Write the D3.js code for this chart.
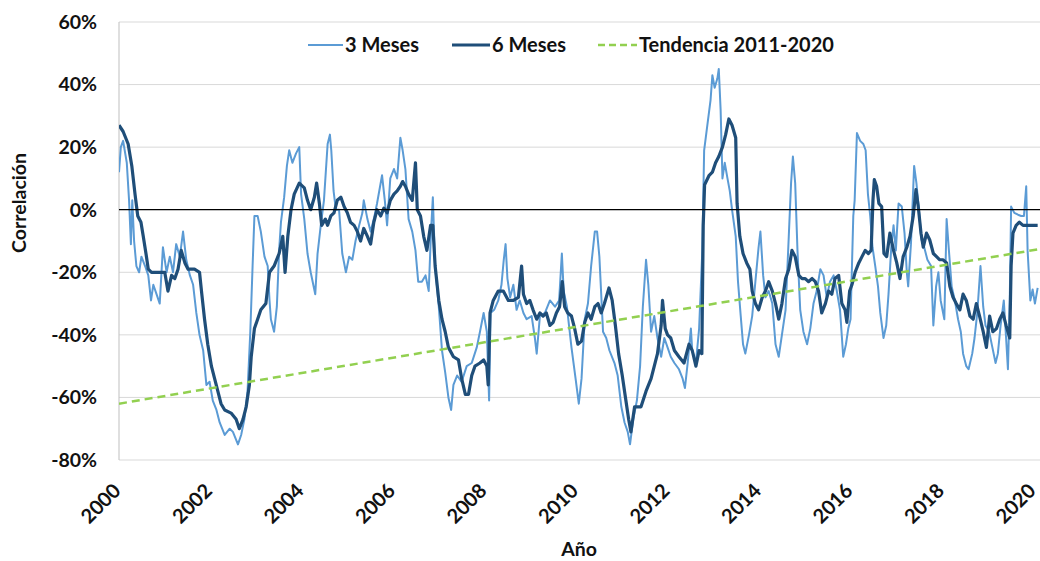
<!DOCTYPE html>
<html>
<head>
<meta charset="utf-8">
<script src="https://cdn.jsdelivr.net/npm/d3@7"></script>
<style>
  body { margin: 0; background: #fff; }
  text { font-family: Lato, "Open Sans", sans-serif; font-weight: bold; fill: #111; }
</style>
</head>
<body>
<div id="chart"></div>
<script>
// Series (decimal year, correlation in %)
var years3m = [2000.00,2000.04,2000.09,2000.17,2000.22,2000.26,2000.29,2000.33,2000.38,2000.44,2000.49,2000.57,2000.64,2000.70,2000.75,2000.82,2000.89,2000.96,2001.04,2001.11,2001.18,2001.25,2001.33,2001.40,2001.47,2001.55,2001.62,2001.69,2001.76,2001.84,2001.91,2001.98,2002.05,2002.13,2002.20,2002.31,2002.42,2002.49,2002.60,2002.67,2002.74,2002.81,2002.87,2002.92,2002.96,2003.03,2003.10,2003.18,2003.25,2003.29,2003.32,2003.39,2003.45,2003.50,2003.54,2003.61,2003.67,2003.72,2003.79,2003.87,2003.94,
  2003.98,2004.05,2004.12,2004.19,2004.29,2004.34,2004.41,2004.48,2004.56,2004.61,2004.64,2004.69,2004.74,2004.81,2004.88,2004.96,2005.03,2005.10,2005.17,2005.25,2005.32,2005.35,2005.43,2005.50,2005.57,2005.64,2005.75,2005.81,2005.86,2005.93,2006.01,2006.08,2006.15,2006.20,2006.26,2006.33,2006.41,2006.48,2006.54,2006.62,2006.70,2006.77,2006.82,2006.86,2006.91,2006.99,2007.06,2007.13,2007.20,2007.26,2007.31,2007.39,2007.49,2007.60,2007.71,2007.82,2007.89,
  2007.97,2008.04,2008.09,2008.12,2008.20,2008.29,2008.36,2008.41,2008.45,2008.49,2008.55,2008.62,2008.69,2008.76,2008.84,2008.91,2009.02,2009.09,2009.13,2009.20,2009.31,2009.42,2009.53,2009.62,2009.68,2009.72,2009.79,2009.89,2009.98,2010.05,2010.11,2010.18,2010.25,2010.32,2010.40,2010.45,2010.50,2010.58,2010.65,2010.72,2010.83,2010.90,2010.98,2011.05,2011.12,2011.17,2011.24,2011.32,2011.39,2011.45,2011.52,2011.57,2011.63,2011.70,2011.77,2011.85,2011.92,2011.99,
  2012.06,2012.14,2012.24,2012.32,2012.37,2012.43,2012.50,2012.53,2012.61,2012.68,2012.75,2012.79,2012.86,2012.93,2012.97,2013.02,2013.08,2013.11,2013.15,2013.19,2013.24,2013.30,2013.35,2013.40,2013.48,2013.53,2013.59,2013.64,2013.69,2013.77,2013.84,2013.91,2013.98,2014.02,2014.08,2014.13,2014.20,2014.28,2014.35,2014.42,2014.49,2014.57,2014.64,2014.69,2014.73,2014.78,2014.83,2014.89,2014.96,2015.04,2015.11,2015.18,2015.25,2015.33,2015.40,2015.47,2015.54,2015.62,2015.69,2015.76,2015.83,2015.89,2015.94,2015.99,
  2016.05,2016.08,2016.13,2016.20,2016.27,2016.32,2016.37,2016.42,2016.47,2016.53,2016.59,2016.64,2016.71,2016.77,2016.82,2016.88,2016.93,2016.98,2017.04,2017.11,2017.17,2017.22,2017.25,2017.31,2017.38,2017.43,2017.49,2017.54,2017.60,2017.67,2017.75,2017.80,2017.86,2017.91,2017.96,2018.04,2018.09,2018.14,2018.20,2018.27,2018.34,2018.40,2018.45,2018.52,2018.57,2018.65,2018.70,2018.76,2018.83,2018.89,2018.94,2019.02,2019.09,2019.16,2019.21,2019.27,2019.34,2019.39,2019.43,2019.47,2019.50,2019.57,2019.65,2019.72,2019.78,2019.83,2019.86,2019.92,2019.97,2020.02,2020.08];
var values3m = [12,20,22,15,3,-11,3,-10,-18,-20,-15,-18,-21,-29,-24,-27,-30,-12,-20,-15,-20,-11,-15,-7,-16,-21,-24,-33,-40,-45,-56,-55,-61,-64,-68,-72,-70,-71,-75,-72,-67,-58,-39,-18,-2,-2,-7,-15,-18,-29,-35,-39,-31,-13,-4,4,14,19,15,18,20,
  5,-3,-14,-20,-27,-14,-5,3,21,24,19,6,0,0,-14,-20,-15,-16,-10,-5,-1,3,-3,-7,-3,2,11,3,-5,10,13,10,23,19,13,-3,-7,-13,-23,-23,-21,-26,-7,4,-18,-31,-45,-52,-60,-64,-56,-53,-55,-50,-49,-44,-39,
  -33,-39,-61,-33,-32,-29,-24,-16,-11,-22,-28,-24,-32,-29,-33,-35,-34,-41,-46,-34,-33,-29,-31,-29,-14,-26,-31,-44,-54,-62,-54,-35,-30,-18,-7,-7,-15,-39,-41,-45,-49,-53,-63,-68,-71,-75,-67,-61,-50,-31,-16,-24,-39,-34,-41,-47,-41,-44,
  -47,-49,-51,-54,-57,-49,-38,-45,-49,-38,-13,19,27,35,43,39,42,45,32,10,15,10,6,0,-8.5,-23,-34,-43,-46,-40,-34,-23,-12,-7,-21,-28,-26,-30,-43,-47,-40,-32,-8.5,8.5,17,8.5,-13,-32,-39,-43,-38,-30,-26,-19,-21,-28,-23,-21,-26,-32,-47,-43,-38,-35,
  -2,3,24.5,22,21,19,5,-2,-12,-18,-24.5,-33,-41,-37,-27,-12,-5,-13,2,1,-7.5,-20,-24.5,-11,14,8.5,-1,-9.6,-12,-16,-18,-37,-24.5,-20,-29,-35,-3,-13,-24.5,-29,-35,-39,-46,-50,-51,-46,-41,-33,-18,-31,-37,-39,-44,-49,-46,-37,-29,-41,-51,-29,1,-1,-1.6,-2,-2,7.5,-13,-29,-25.5,-30,-25];

var years6m = [2000.00,2000.09,2000.20,2000.28,2000.35,2000.41,2000.48,2000.53,2000.60,2000.64,2000.71,2000.86,2001.00,2001.07,2001.15,2001.22,2001.29,2001.36,2001.44,2001.51,2001.65,2001.76,2001.81,2001.87,2001.94,2002.02,2002.09,2002.16,2002.23,2002.31,2002.45,2002.56,2002.63,2002.71,2002.78,2002.85,2002.89,2002.96,2003.03,2003.10,2003.21,2003.29,2003.39,2003.50,2003.58,2003.63,2003.69,2003.76,2003.83,2003.94,
  2004.05,2004.12,2004.19,2004.27,2004.32,2004.38,2004.43,2004.51,2004.56,2004.63,2004.70,2004.77,2004.85,2004.92,2004.99,2005.06,2005.14,2005.21,2005.28,2005.35,2005.43,2005.50,2005.57,2005.64,2005.72,2005.79,2005.86,2005.93,2006.01,2006.08,2006.15,2006.20,2006.26,2006.33,2006.41,2006.48,2006.52,2006.59,2006.66,2006.73,2006.81,2006.86,2006.91,2006.99,2007.06,2007.13,2007.20,2007.31,2007.42,2007.49,2007.57,2007.64,2007.71,2007.78,2007.89,
  2007.97,2008.04,2008.07,2008.11,2008.18,2008.29,2008.40,2008.51,2008.62,2008.73,2008.80,2008.84,2008.91,2008.98,2009.05,2009.13,2009.20,2009.27,2009.34,2009.42,2009.49,2009.56,2009.63,2009.69,2009.74,2009.81,2009.89,2009.96,2010.03,2010.11,2010.18,2010.25,2010.32,2010.40,2010.47,2010.54,2010.61,2010.71,2010.78,2010.85,2010.92,2011.00,2011.07,2011.14,2011.19,2011.27,2011.34,2011.41,2011.52,2011.63,2011.70,2011.77,2011.85,2011.88,2011.94,2011.99,
  2012.06,2012.14,2012.24,2012.35,2012.46,2012.53,2012.61,2012.68,2012.74,2012.77,2012.80,2012.90,2012.97,2013.04,2013.11,2013.19,2013.26,2013.33,2013.40,2013.48,2013.51,2013.57,2013.64,2013.72,2013.79,2013.84,2013.91,2013.98,2014.06,2014.13,2014.20,2014.28,2014.35,2014.42,2014.49,2014.57,2014.64,2014.71,2014.78,2014.86,2014.93,2015.00,2015.07,2015.15,2015.22,2015.29,2015.36,2015.44,2015.51,2015.58,2015.65,2015.73,2015.80,2015.87,2015.91,2015.97,2016.02,
  2016.09,2016.17,2016.24,2016.31,2016.38,2016.44,2016.48,2016.51,2016.56,2016.61,2016.67,2016.72,2016.78,2016.85,2016.93,2017.00,2017.07,2017.14,2017.22,2017.29,2017.36,2017.42,2017.47,2017.53,2017.58,2017.65,2017.72,2017.80,2017.87,2017.94,2018.01,2018.09,2018.16,2018.23,2018.30,2018.38,2018.45,2018.52,2018.60,2018.67,2018.74,2018.81,2018.89,2018.96,2019.03,2019.10,2019.18,2019.25,2019.32,2019.39,2019.47,2019.50,2019.54,2019.61,2019.68,2019.76,2019.86,2019.97,2020.08];
var values6m = [27,25,21,14,5,-2,-4,-8.5,-15,-19,-20,-20,-20,-26,-21,-22,-19,-13,-17,-19,-19,-20,-27,-35,-43,-50,-54,-58,-62,-64,-65,-67,-70,-67,-63,-56,-47,-38,-35,-32,-30,-20,-18,-14,-8.5,-20,-8.5,0,5,8.5,
  7,3,0,4,8.5,2,-5,-3,-5,-2,-1,3,4,1,-1,-4,-5,-7,-10,-6,-8.5,-11,-4,0,-2,0.5,-1,3,5,6,7.5,9,7.5,5,3,15,0,-2,-8.5,-13,-5,-5,-18,-29,-35,-39,-44,-47,-48,-54,-59,-59,-53,-50,-49,
  -48,-50,-56,-33,-29,-26,-26,-29,-29,-28,-18,-27,-30,-29,-32,-35,-33,-34,-33,-37,-36,-33,-31,-23,-31,-33,-34,-38,-43,-42,-36,-33,-35,-31,-30,-33,-30,-25,-29,-37,-46,-53,-60,-67,-71,-63,-63,-63,-58,-54,-50,-46,-37,-29,-38,-40,
  -41,-45,-47,-49,-43,-45,-50,-45,-46,-5,8,11,12,15,17,20,24,29,27,23,2,-8.5,-14,-17,-19,-26,-30,-32,-28,-26,-23,-26,-30,-35,-30,-22,-19,-13,-15,-21,-22,-22,-23,-22,-23,-26,-33,-30,-26,-27,-22,-21,-30,-32,-36,-26,-24,
  -20,-17,-15,-13,-14,-13,3,9.6,7.5,2,1,-14,-15,-7.5,-13,-17,-22,-15,-12,-8.5,-2,6.4,1,-7.5,-12,-7.5,-9.6,-14,-15,-16,-16,-17,-24.5,-28,-30,-32,-27,-29,-34,-35,-30,-34,-39,-44,-34,-39,-38,-35,-33,-37,-41,-18,-7.5,-5,-4,-5,-5,-5,-5];

// Trend 2011-2020 extended over the whole range
var trendYears = [2000, 2020.08];
var trendValues = [-62, -12.7];

var yTicks = [60, 40, 20, 0, -20, -40, -60, -80];
var xTicks = [2000, 2002, 2004, 2006, 2008, 2010, 2012, 2014, 2016, 2018, 2020];

var W = 1040, H = 561;
var plotLeft = 119, plotRight = 1040, plotTop = 22, plotBottom = 460;

var svg = d3.select("#chart").append("svg")
    .attr("width", W)
    .attr("height", H);

var x = d3.scaleLinear().domain([2000, 2020]).range([plotLeft, 1034]);
var y = d3.scaleLinear().domain([-80, 60]).range([plotBottom, plotTop]);

svg.append("defs").append("clipPath").attr("id", "clip")
    .append("rect")
    .attr("x", plotLeft).attr("y", 0)
    .attr("width", plotRight - plotLeft).attr("height", H);

// horizontal gridlines
svg.append("g")
    .selectAll("line")
    .data(yTicks.filter(d => d !== 0))
    .enter().append("line")
    .attr("x1", plotLeft).attr("x2", plotRight)
    .attr("y1", d => y(d)).attr("y2", d => y(d))
    .style("stroke", "#d9d9d9")
    .style("stroke-width", 1);

// left axis line
svg.append("line")
    .attr("x1", plotLeft).attr("x2", plotLeft)
    .attr("y1", plotTop).attr("y2", plotBottom)
    .style("stroke", "#bfbfbf")
    .style("stroke-width", 1);

// y tick labels
svg.append("g")
    .selectAll("text")
    .data(yTicks)
    .enter().append("text")
    .attr("x", 97)
    .attr("y", d => y(d))
    .attr("dy", "0.35em")
    .style("text-anchor", "end")
    .style("font-size", "19.5px")
    .text(d => d + "%");

// x tick labels, rotated
svg.append("g")
    .selectAll("text")
    .data(xTicks)
    .enter().append("text")
    .attr("transform", d => "translate(" + (x(d) + 3) + ",492) rotate(-45)")
    .style("text-anchor", "end")
    .style("font-size", "20px")
    .text(d => d);

// axis titles
svg.append("text")
    .attr("x", 579)
    .attr("y", 556)
    .style("text-anchor", "middle")
    .style("font-size", "19.5px")
    .text("Año");

svg.append("text")
    .attr("transform", "translate(26,203) rotate(-90)")
    .style("text-anchor", "middle")
    .style("font-size", "19.5px")
    .text("Correlación");

var plot = svg.append("g").attr("clip-path", "url(#clip)");

var line = d3.line()
    .x(d => x(d[0]))
    .y(d => y(d[1]));

plot.append("path")
    .datum(d3.zip(years3m, values3m))
    .attr("d", line)
    .style("fill", "none")
    .style("stroke", "#5b9bd5")
    .style("stroke-width", 2)
    .style("stroke-linejoin", "round");

plot.append("path")
    .datum(d3.zip(years6m, values6m))
    .attr("d", line)
    .style("fill", "none")
    .style("stroke", "#1f4e79")
    .style("stroke-width", 3.2)
    .style("stroke-linejoin", "round");

plot.append("path")
    .datum(d3.zip(trendYears, trendValues))
    .attr("d", line)
    .style("fill", "none")
    .style("stroke", "#92d050")
    .style("stroke-width", 2.5)
    .style("stroke-dasharray", "8,5");

// zero line
svg.append("line")
    .attr("x1", plotLeft).attr("x2", plotRight)
    .attr("y1", y(0)).attr("y2", y(0))
    .style("stroke", "#000")
    .style("stroke-width", 1.3);

// legend
var legendItems = [
    { label: "3 Meses", x: 308, len: 35, color: "#5b9bd5", width: 2, dash: null },
    { label: "6 Meses", x: 452, len: 38, color: "#1f4e79", width: 3, dash: null },
    { label: "Tendencia 2011-2020", x: 598, len: 39, color: "#92d050", width: 2.5, dash: "7,4" }
];

var legend = svg.append("g").attr("class", "legendGroup");
legendItems.forEach(function(d) {
    legend.append("line")
        .attr("x1", d.x).attr("x2", d.x + d.len)
        .attr("y1", 45).attr("y2", 45)
        .style("stroke", d.color)
        .style("stroke-width", d.width)
        .style("stroke-dasharray", d.dash);
    legend.append("text")
        .attr("x", d.x + d.len + 2)
        .attr("y", 45)
        .attr("dy", "0.35em")
        .style("font-size", "20px")
        .text(d.label);
});
</script>
</body>
</html>
